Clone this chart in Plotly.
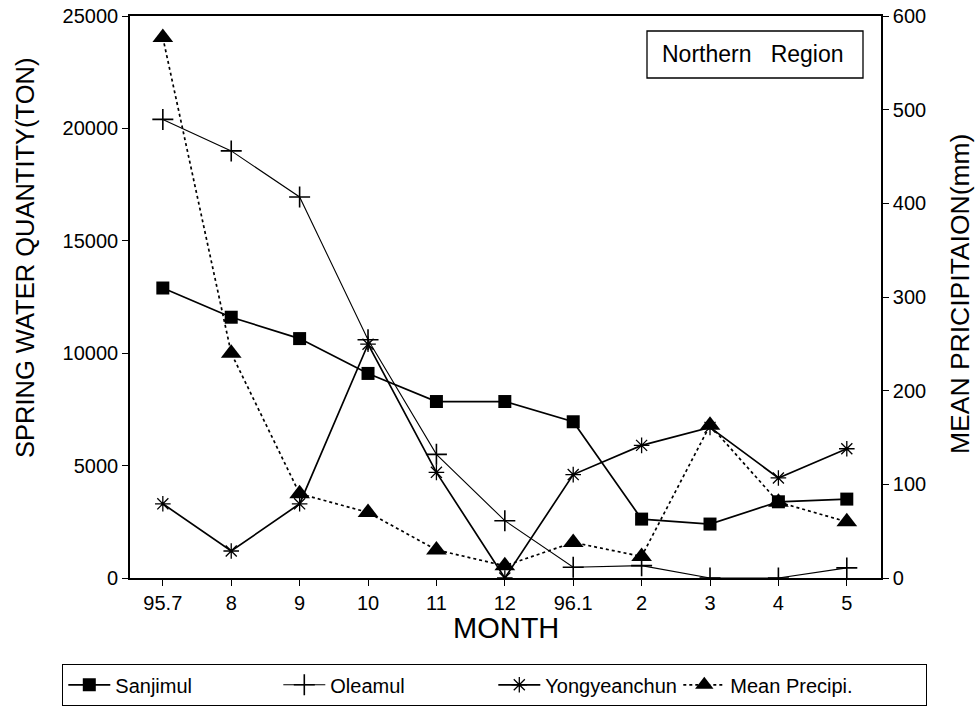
import plotly.graph_objects as go

# Monthly observations, July 1995 - May 1996
months = ["95.7", "8", "9", "10", "11", "12", "96.1", "2", "3", "4", "5"]
sanjimul = [12900, 11600, 10650, 9100, 7850, 7850, 6950, 2620, 2400, 3390, 3510]
oleamul = [20400, 19000, 16950, 10600, 5500, 2550, 480, 550, 0, 0, 450]
yongyeanchun = [3300, 1200, 3300, 10400, 4700, 0, 4600, 5900, 6700, 4450, 5750]
mean_precip = [577, 240, 90, 70, 30, 13, 38, 23, 163, 81, 60]

FONT = "Liberation Sans, Arial, Helvetica, sans-serif"
INK = "black"

# figure and plot area in pixels (for placing the free-standing labels)
W, H = 979, 710
L, R, T, B = 130, 881, 16, 578
PW, PH = R - L, B - T


def px(x):
    return (x - L) / PW


def py(y):
    return (B - y) / PH


fig = go.Figure()

fig.add_trace(go.Scatter(
    x=months, y=sanjimul, name="Sanjimul", mode="lines+markers",
    line=dict(color=INK, width=1.7),
    marker=dict(symbol="square", size=13, color=INK),
    legendwidth=158,
))
fig.add_trace(go.Scatter(
    x=months, y=oleamul, name="Oleamul", mode="lines+markers",
    line=dict(color=INK, width=1.1),
    marker=dict(symbol="cross-thin-open", size=15, line=dict(color=INK, width=1.6)),
    legendwidth=158,
))
fig.add_trace(go.Scatter(
    x=months, y=yongyeanchun, name="Yongyeanchun", mode="lines+markers",
    line=dict(color=INK, width=1.7),
    marker=dict(symbol="asterisk-open", size=13, line=dict(color=INK, width=1.3)),
    legendwidth=128,
))
fig.add_trace(go.Scatter(
    x=months, y=mean_precip, name="Mean Precipi.", mode="lines+markers",
    yaxis="y2",
    line=dict(color=INK, width=1.7, dash="dot"),
    marker=dict(symbol="triangle-up", size=18, color=INK),
    legendwidth=190,
))

# Region label box in the upper right of the plot
fig.add_shape(type="rect", xref="paper", yref="paper",
              x0=px(647), x1=px(863), y0=py(78), y1=py(31),
              line=dict(color=INK, width=1.3), fillcolor="white", layer="above")
fig.add_annotation(xref="paper", yref="paper", x=px(753), y=py(54),
                   text="Northern   Region", showarrow=False,
                   font=dict(family=FONT, size=23, color=INK),
                   xanchor="center", yanchor="middle")

# Axis titles
fig.add_annotation(xref="paper", yref="paper", x=px(25), y=py(258),
                   text="SPRING WATER QUANTITY(TON)", textangle=-90, showarrow=False,
                   font=dict(family=FONT, size=25.5, color=INK),
                   xanchor="center", yanchor="middle")
fig.add_annotation(xref="paper", yref="paper", x=px(960), y=py(294),
                   text="MEAN PRICIPITAION(mm)", textangle=-90, showarrow=False,
                   font=dict(family=FONT, size=26.5, color=INK),
                   xanchor="center", yanchor="middle")
fig.add_annotation(xref="paper", yref="paper", x=px(506), y=py(628),
                   text="MONTH", showarrow=False,
                   font=dict(family=FONT, size=29, color=INK),
                   xanchor="center", yanchor="middle")

axis_common = dict(
    showline=True, linecolor=INK, linewidth=1.7,
    ticks="outside", ticklen=6, tickwidth=1.4, tickcolor=INK,
    showgrid=False, zeroline=False,
    tickfont=dict(family=FONT, size=20, color=INK),
)

fig.update_layout(
    width=W, height=H,
    margin=dict(l=L, r=W - R, t=T, b=H - B, autoexpand=False),
    paper_bgcolor="white", plot_bgcolor="white",
    font=dict(family=FONT, color=INK),
    showlegend=True,
    legend=dict(
        orientation="h",
        x=px(62), xanchor="left",
        y=py(664), yanchor="top",
        bordercolor=INK, borderwidth=1.3,
        font=dict(family=FONT, size=20, color=INK),
        bgcolor="white",
        traceorder="normal",
        itemwidth=42,
    ),
    xaxis=dict(
        type="category", categoryorder="array", categoryarray=months,
        range=[-0.48, 10.5], mirror=True, **axis_common,
    ),
    yaxis=dict(
        range=[0, 25000], tickvals=[0, 5000, 10000, 15000, 20000, 25000],
        tickformat="d", **axis_common,
    ),
    yaxis2=dict(
        overlaying="y", side="right",
        range=[0, 600], tickvals=[0, 100, 200, 300, 400, 500, 600],
        tickformat="d", **axis_common,
    ),
)

fig.write_html("out.html")
